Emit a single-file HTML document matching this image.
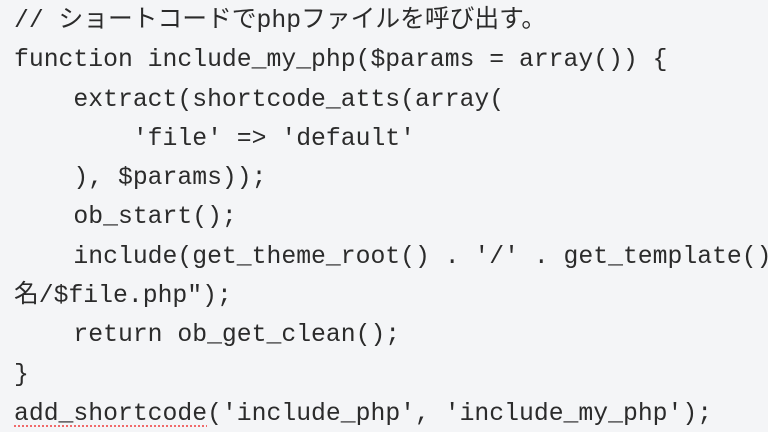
<!DOCTYPE html>
<html><head><meta charset="utf-8"><style>
html,body{margin:0;padding:0;background:#f4f5f7;width:768px;height:432px;overflow:hidden}
.wrap{position:absolute;left:0;top:0;width:768px;height:432px;overflow:hidden}
pre{margin:0;position:absolute;left:14px;top:2px;font-family:"Liberation Mono","Noto Sans CJK JP",monospace;font-size:24.75px;line-height:39.3px;color:#2b2b2b;white-space:pre}
.u{text-decoration:underline dotted #f06a6a;text-decoration-thickness:2px;text-underline-offset:6px}
</style></head><body>
<div class="wrap"><pre>// ショートコードでphpファイルを呼び出す。
function include_my_php($params = array()) {
    extract(shortcode_atts(array(
        'file' =&gt; 'default'
    ), $params));
    ob_start();
    include(get_theme_root() . '/' . get_template() . "/テーマ
名/$file.php");
    return ob_get_clean();
}
<span class="u">add_shortcode</span>('include_php', 'include_my_php');</pre></div>
</body></html>
